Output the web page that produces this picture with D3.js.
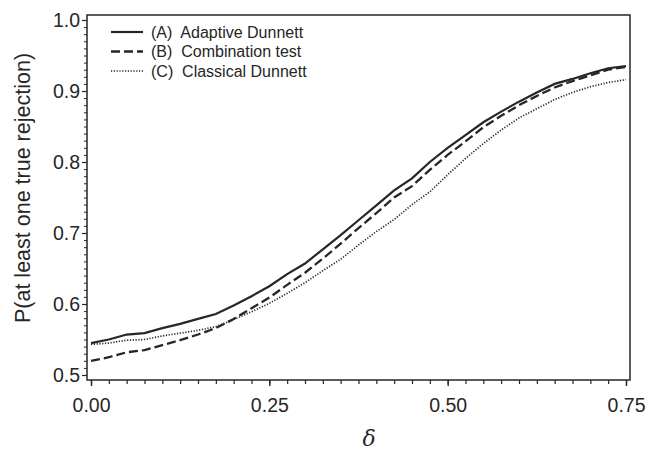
<!DOCTYPE html>
<html>
<head>
<meta charset="utf-8">
<script src="https://cdn.jsdelivr.net/npm/d3@7"></script>
<style>
  body { margin: 0; background: #fff; }
  svg { display: block; font-family: 'Liberation Sans', Arial, sans-serif; }
</style>
</head>
<body>
<div id="chart"></div>
<script>
// Data
const delta = [0, 0.025, 0.05, 0.075, 0.1, 0.125, 0.15, 0.175, 0.2, 0.225, 0.25, 0.275, 0.3, 0.325,
  0.35, 0.375, 0.4, 0.425, 0.45, 0.475, 0.5, 0.525, 0.55, 0.575, 0.6, 0.625, 0.65, 0.675, 0.7, 0.725, 0.75];

const adaptive = [0.545, 0.550, 0.557, 0.559, 0.566, 0.572, 0.579, 0.586, 0.598, 0.611, 0.625, 0.642,
  0.657, 0.677, 0.697, 0.718, 0.739, 0.760, 0.777, 0.800, 0.820, 0.838, 0.856, 0.871, 0.885, 0.898,
  0.910, 0.917, 0.925, 0.932, 0.935];

const combination = [0.520, 0.525, 0.532, 0.535, 0.542, 0.549, 0.557, 0.566, 0.579, 0.594, 0.609, 0.627,
  0.644, 0.664, 0.685, 0.707, 0.728, 0.750, 0.766, 0.789, 0.810, 0.829, 0.849, 0.865, 0.880, 0.893,
  0.905, 0.914, 0.922, 0.930, 0.934];

const classical = [0.543, 0.545, 0.549, 0.550, 0.555, 0.559, 0.563, 0.568, 0.578, 0.589, 0.601, 0.615,
  0.630, 0.647, 0.663, 0.683, 0.702, 0.719, 0.740, 0.758, 0.782, 0.805, 0.826, 0.845, 0.862, 0.875,
  0.888, 0.898, 0.906, 0.912, 0.916];

const seriesNames = ['(A)  Adaptive Dunnett', '(B)  Combination test', '(C)  Classical Dunnett'];
const xTicks = [0, 0.25, 0.5, 0.75];
const yTicks = [0.5, 0.6, 0.7, 0.8, 0.9, 1.0];

const width = 649;
const height = 453;

const xScale = d3.scaleLinear([0, 0.75], [91, 626]);
const yScale = d3.scaleLinear([0.5, 1.0], [375, 20]);

// plot frame
const frame = { l: 87, r: 630, t: 15, b: 380 };

const svg = d3.select('#chart')
  .append('svg')
  .attr('width', width)
  .attr('height', height);

const ink = '#262626';

// x-axis ticks (minor every 0.025)
const xAxis = d3.axisBottom(xScale)
  .tickValues(xTicks)
  .tickFormat(d3.format('.2f'))
  .tickSize(6)
  .tickPadding(12);

const xMinor = d3.axisBottom(xScale)
  .tickValues(d3.range(0, 0.7501, 0.025))
  .tickFormat('')
  .tickSize(4);

svg.append('g')
  .attr('transform', `translate(0, ${frame.b})`)
  .call(xMinor)
  .call((g) => g.select('.domain').remove())
  .call((g) => g.selectAll('line').attr('stroke', ink).attr('stroke-width', 1.2));

svg.append('g')
  .attr('transform', `translate(0, ${frame.b})`)
  .call(xAxis)
  .call((g) => g.select('.domain').remove())
  .call((g) => g.selectAll('line').attr('stroke', ink).attr('stroke-width', 1.4))
  .selectAll('text')
  .attr('fill', ink)
  .style('font-size', '19.5px');

// y-axis ticks (minor every 0.01)
const yAxis = d3.axisLeft(yScale)
  .tickValues(yTicks)
  .tickFormat(d3.format('.1f'))
  .tickSize(5)
  .tickPadding(2);

const yMinor = d3.axisLeft(yScale)
  .tickValues(d3.range(0.5, 1.0001, 0.01))
  .tickFormat('')
  .tickSize(3);

svg.append('g')
  .attr('transform', `translate(${frame.l}, 0)`)
  .call(yMinor)
  .call((g) => g.select('.domain').remove())
  .call((g) => g.selectAll('line').attr('stroke', ink).attr('stroke-width', 1));

svg.append('g')
  .attr('transform', `translate(${frame.l}, 0)`)
  .call(yAxis)
  .call((g) => g.select('.domain').remove())
  .call((g) => g.selectAll('line').attr('stroke', ink).attr('stroke-width', 1.2))
  .selectAll('text')
  .attr('fill', ink)
  .style('font-size', '19.5px');

// box
svg.append('rect')
  .attr('x', frame.l)
  .attr('y', frame.t)
  .attr('width', frame.r - frame.l)
  .attr('height', frame.b - frame.t)
  .attr('fill', 'none')
  .attr('stroke', ink)
  .attr('stroke-width', 1.5);

// lines
const series = [
  { name: seriesNames[0], values: adaptive, dash: null, w: 2.2 },
  { name: seriesNames[1], values: combination, dash: '9,4', w: 2.3 },
  { name: seriesNames[2], values: classical, dash: '1.2,1.6', w: 1.7 },
];

const line = d3.line()
  .x((d) => xScale(d[0]))
  .y((d) => yScale(d[1]));

svg.append('g')
  .selectAll('path')
  .data(series)
  .join('path')
  .attr('d', (s) => line(delta.map((d, i) => [d, s.values[i]])))
  .attr('fill', 'none')
  .attr('stroke', ink)
  .attr('stroke-width', (s) => s.w)
  .attr('stroke-dasharray', (s) => s.dash);

// legend
const legend = svg.append('g')
  .selectAll('g')
  .data(series)
  .join('g')
  .attr('transform', (s, i) => `translate(111, ${32 + i * 19.5})`);

legend.append('line')
  .attr('x1', 0)
  .attr('x2', 32)
  .attr('stroke', ink)
  .attr('stroke-width', (s) => s.w)
  .attr('stroke-dasharray', (s) => s.dash);

legend.append('text')
  .attr('x', 40)
  .attr('dy', '0.35em')
  .attr('fill', ink)
  .style('font-size', '16px')
  .style('white-space', 'pre')
  .text((s) => s.name);

// x-axis name
svg.append('text')
  .attr('x', 369)
  .attr('y', 446)
  .attr('text-anchor', 'middle')
  .attr('fill', ink)
  .style('font-family', "'DejaVu Serif', serif")
  .style('font-style', 'italic')
  .style('font-size', '22px')
  .text('δ');

// y-axis name
svg.append('text')
  .attr('text-anchor', 'middle')
  .attr('transform', 'translate(30, 188)rotate(-90)')
  .attr('fill', ink)
  .style('font-size', '21.5px')
  .text('P(at least one true rejection)');
</script>
</body>
</html>
